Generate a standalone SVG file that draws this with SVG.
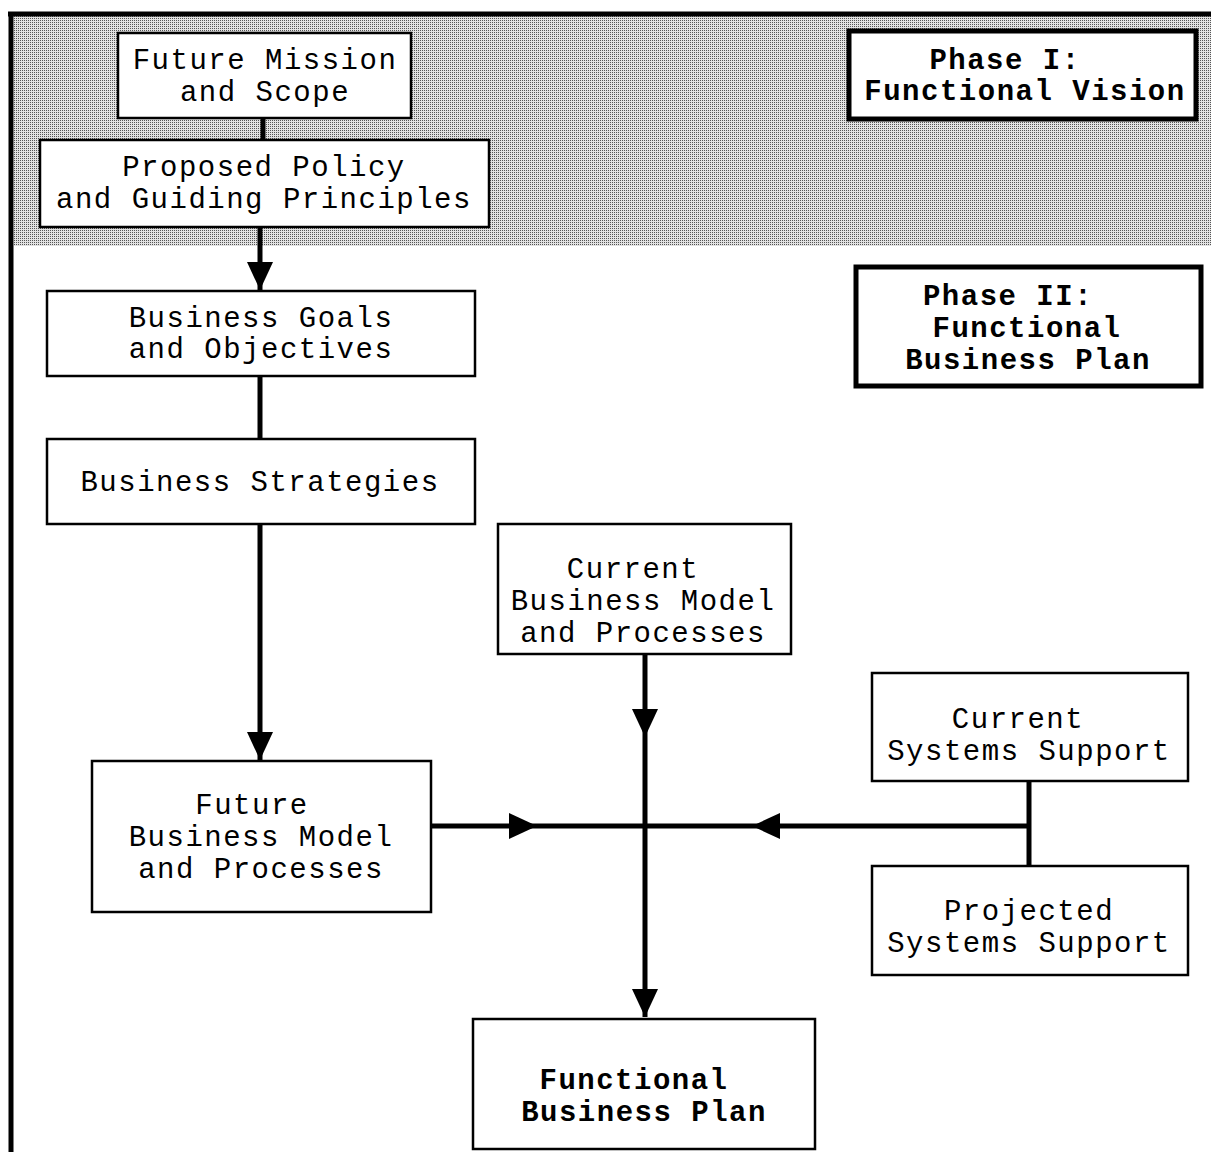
<svg xmlns="http://www.w3.org/2000/svg" width="1211" height="1152" viewBox="0 0 1211 1152">
<style>
.box{fill:#fff;stroke:#000;stroke-width:2.5}
.pbox{fill:#fff;stroke:#000;stroke-width:5}
.t{font-family:"Liberation Mono","Courier New",monospace;font-size:29px;letter-spacing:1.5px;text-anchor:middle;fill:#000}
.b{font-weight:bold}
.c{stroke:#000;stroke-width:5;fill:none}
.ca{stroke:#000;stroke-width:5;fill:none;marker-end:url(#ah)}
</style>
<defs>
<pattern id="ht" width="2" height="2" patternUnits="userSpaceOnUse">
<rect width="2" height="2" fill="#e2e2e2"/>
<rect width="1" height="1" fill="#555"/>
</pattern>
<marker id="ah" markerUnits="userSpaceOnUse" markerWidth="30" markerHeight="28" refX="28" refY="13" orient="auto">
<path d="M0,0 L28,13 L0,26 z" fill="#000"/>
</marker>
</defs>
<rect width="1211" height="1152" fill="#fff"/>
<rect x="14" y="16" width="1197" height="230" fill="url(#ht)"/>
<g id="frame">
<line x1="8" y1="14" x2="1211" y2="14" stroke="#000" stroke-width="5"/>
<line x1="11" y1="12" x2="11" y2="1152" stroke="#000" stroke-width="5"/>
</g>
<g id="connectors">
<line class="c" x1="263" y1="118" x2="263" y2="140"/>
<line class="ca" x1="260" y1="227" x2="260" y2="290"/>
<line class="c" x1="260" y1="376" x2="260" y2="439"/>
<line class="ca" x1="260" y1="524" x2="260" y2="760"/>
<line class="ca" x1="645" y1="654" x2="645" y2="737"/>
<line class="ca" x1="645" y1="737" x2="645" y2="1017"/>
<line class="ca" x1="431" y1="826" x2="537" y2="826"/>
<line class="c" x1="537" y1="826" x2="752" y2="826"/>
<line class="ca" x1="1029" y1="826" x2="752" y2="826"/>
<line class="c" x1="1029" y1="781" x2="1029" y2="866"/>
</g>
<g id="future-mission">
<rect class="box" x="118" y="33" width="293" height="85"/>
<text class="t" x="265" y="69">Future Mission</text>
<text class="t" x="265" y="101">and Scope</text>
</g>
<g id="proposed-policy">
<rect class="box" x="40" y="140" width="449" height="87"/>
<text class="t" x="264" y="176">Proposed Policy</text>
<text class="t" x="264" y="208">and Guiding Principles</text>
</g>
<g id="business-goals">
<rect class="box" x="47" y="291" width="428" height="85"/>
<text class="t" x="261" y="327">Business Goals</text>
<text class="t" x="261" y="358">and Objectives</text>
</g>
<g id="business-strategies">
<rect class="box" x="47" y="439" width="428" height="85"/>
<text class="t" x="260" y="491">Business Strategies</text>
</g>
<g id="current-bmp">
<rect class="box" x="498" y="524" width="293" height="130"/>
<text class="t" x="633" y="578">Current</text>
<text class="t" x="643" y="610">Business Model</text>
<text class="t" x="643" y="642">and Processes</text>
</g>
<g id="future-bmp">
<rect class="box" x="92" y="761" width="339" height="151"/>
<text class="t" x="252" y="814">Future</text>
<text class="t" x="261" y="846">Business Model</text>
<text class="t" x="261" y="878">and Processes</text>
</g>
<g id="current-systems">
<rect class="box" x="872" y="673" width="316" height="108"/>
<text class="t" x="1018" y="728">Current</text>
<text class="t" x="1029" y="760">Systems Support</text>
</g>
<g id="projected-systems">
<rect class="box" x="872" y="866" width="316" height="109"/>
<text class="t" x="1029" y="920">Projected</text>
<text class="t" x="1029" y="952">Systems Support</text>
</g>
<g id="functional-business-plan">
<rect class="box" x="473" y="1019" width="342" height="130"/>
<text class="t b" x="634" y="1089">Functional</text>
<text class="t b" x="644" y="1121">Business Plan</text>
</g>
<g id="phase1">
<rect class="pbox" x="849" y="31" width="347" height="88"/>
<text class="t b" x="1005" y="69">Phase I:</text>
<text class="t b" x="1025" y="100">Functional Vision</text>
</g>
<g id="phase2">
<rect class="pbox" x="856" y="267" width="345" height="119"/>
<text class="t b" x="1008" y="305">Phase II:</text>
<text class="t b" x="1027" y="337">Functional</text>
<text class="t b" x="1028" y="369">Business Plan</text>
</g>
</svg>
